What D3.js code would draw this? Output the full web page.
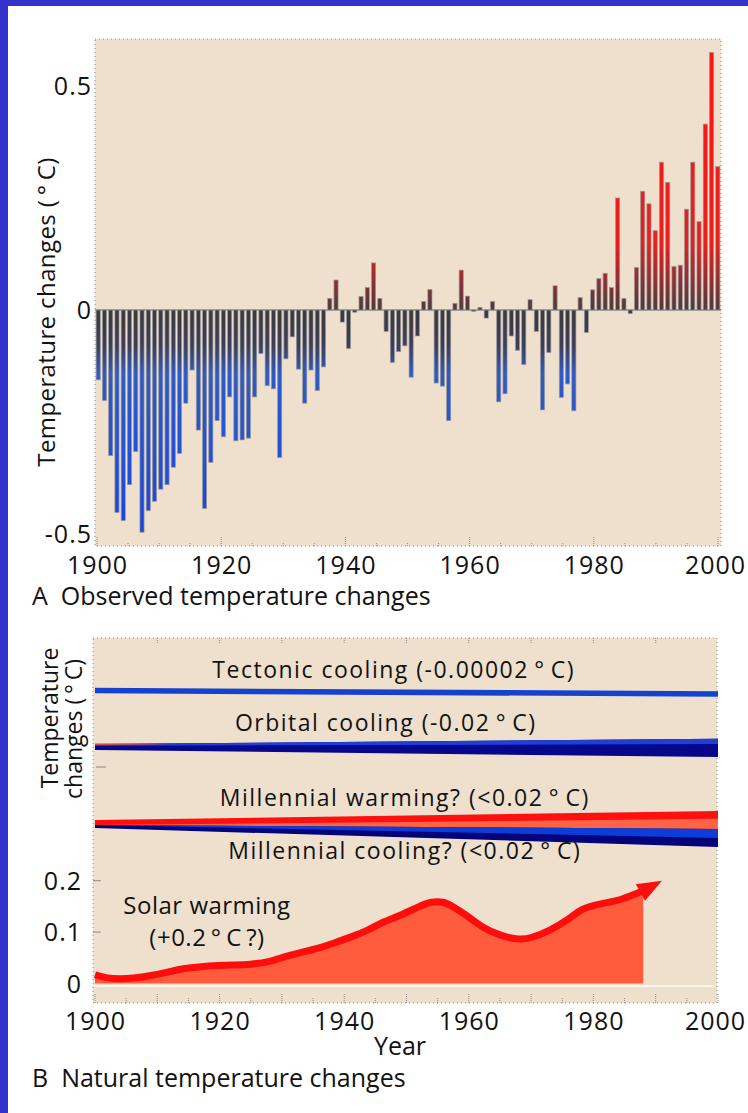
<!DOCTYPE html>
<html>
<head>
<meta charset="utf-8">
<script src="https://cdn.jsdelivr.net/npm/d3@7"></script>
<style>
  html, body { margin: 0; padding: 0; background: #fff; }
  svg { display: block; }
  text { font-family: "Open Sans", sans-serif; fill: #121212; font-weight: 500; }
</style>
</head>
<body>
<svg id="chart" width="748" height="1113"></svg>
<script>
// ---- Panel A: observed annual temperature changes (°C), one value per year from 1900
const obsStartYear = 1900;
const obsValues = [
  -0.156, -0.202, -0.325, -0.452, -0.470, -0.390, -0.316, -0.496, -0.448, -0.427,
  -0.400, -0.390, -0.351, -0.320, -0.208, -0.134, -0.268, -0.443, -0.340, -0.247,
  -0.283, -0.194, -0.292, -0.290, -0.286, -0.194, -0.097, -0.169, -0.176, -0.329,
  -0.109, -0.060, -0.132, -0.208, -0.134, -0.180, -0.127,  0.026,  0.067, -0.027,
  -0.086, -0.005,  0.030,  0.050,  0.105,  0.026, -0.048, -0.117, -0.093, -0.080,
  -0.150, -0.058,  0.019,  0.046, -0.163, -0.170, -0.247,  0.015,  0.089,  0.031,
  -0.003,  0.006, -0.018,  0.019, -0.205, -0.187, -0.058, -0.090, -0.122,  0.023,
  -0.048, -0.223, -0.095,  0.054, -0.195, -0.165, -0.225,  0.028, -0.050,  0.045,
   0.070,  0.082,  0.050,  0.250,  0.026, -0.008,  0.095,  0.265,  0.237,  0.177,
   0.330,  0.285,  0.097,  0.100,  0.225,  0.330,  0.197,  0.415,  0.575,  0.320
];
const obsYears = obsValues.map((_, i) => obsStartYear + i);
const obsYTicks = [-0.5, 0, 0.5];
const obsYTickLabels = ["-0.5", "0", "0.5"];
const yearTicks = [1900, 1920, 1940, 1960, 1980, 2000];

// ---- Panel B: natural forcings
const bandLabels = [
  "Tectonic cooling (-0.00002\u2009°\u2009C)",
  "Orbital cooling (-0.02\u2009°\u2009C)",
  "Millennial warming? (<0.02\u2009°\u2009C)",
  "Millennial cooling? (<0.02\u2009°\u2009C)"
];
const bandChange = [-0.00002, -0.02, 0.02, -0.02];

const solarYears = [1900, 1902, 1904, 1906, 1909, 1912, 1914, 1917, 1920, 1922, 1925, 1928,
  1930, 1933, 1936, 1938, 1941, 1944, 1946, 1949, 1952, 1954, 1956, 1957, 1960, 1962,
  1965, 1968, 1970, 1973, 1976, 1978, 1981, 1984, 1986, 1988];
const solarValues = [0.017, 0.010, 0.009, 0.010, 0.015, 0.023, 0.029, 0.033, 0.035, 0.036, 0.037, 0.042,
  0.051, 0.060, 0.069, 0.077, 0.090, 0.104, 0.119, 0.132, 0.150, 0.160, 0.159, 0.153, 0.130, 0.110,
  0.093, 0.085, 0.088, 0.103, 0.124, 0.146, 0.155, 0.161, 0.171, 0.180];
const solarArrowYear = 1991;
const solarArrowValue = 0.20;
const solarYTicks = [0, 0.1, 0.2];
const solarYTickLabels = ["0", "0.1", "0.2"];

// ---------------------------------------------------------------------------
const svg = d3.select("#chart");
const BEIGE = "#efe0cd";
const GRID = "#8d8a86";
const TICK_SPACING = 1.0;
const LABEL_MAX_X = 715;   // keep the last year label inside the page

// page frame
svg.append("rect").attr("x", 0).attr("y", 0).attr("width", 748).attr("height", 1113).attr("fill", "#fff");
svg.append("rect").attr("x", 0).attr("y", 0).attr("width", 748).attr("height", 6).attr("fill", "#3333cc");
svg.append("rect").attr("x", 0).attr("y", 0).attr("width", 8).attr("height", 1113).attr("fill", "#3333cc");

// ============================ Panel A ============================
const A = { left: 95, right: 721, top: 39, bottom: 546 };
const xA = d3.scaleLinear().domain([1900, 2000]).range([97, 718]);
const xBand = d3.scaleBand().domain(obsYears).range([A.left, A.right]).paddingInner(0.34).paddingOuter(0.18);
const yA = d3.scaleLinear().domain([-0.5, 0.5]).range([534, 86]);

const defs = svg.append("defs");
const neg = defs.append("linearGradient").attr("id", "negGrad")
  .attr("gradientUnits", "userSpaceOnUse").attr("x1", 0).attr("x2", 0)
  .attr("y1", yA(0)).attr("y2", yA(-0.5));
[[0, "#3a3a3e"], [0.16, "#3b3f5c"], [0.28, "#2e5bc4"], [0.6, "#2352d6"], [1, "#1846e0"]]
  .forEach(([o, c]) => neg.append("stop").attr("offset", o).attr("stop-color", c));
const pos = defs.append("linearGradient").attr("id", "posGrad")
  .attr("gradientUnits", "userSpaceOnUse").attr("x1", 0).attr("x2", 0)
  .attr("y1", yA(0)).attr("y2", yA(0.5));
[[0, "#4a3c3e"], [0.12, "#8a3036"], [0.3, "#e8201e"], [1, "#ff1414"]]
  .forEach(([o, c]) => pos.append("stop").attr("offset", o).attr("stop-color", c));

svg.append("rect").attr("x", A.left).attr("y", A.top)
  .attr("width", A.right - A.left).attr("height", A.bottom - A.top)
  .attr("fill", BEIGE).attr("stroke", GRID).attr("stroke-width", 1).attr("stroke-dasharray", "1,3");

// bottom tick marks
const tickYearsA = d3.range(1900, 2001, 5);
svg.append("g").selectAll("line").data(tickYearsA).join("line")
  .attr("x1", d => xA(d)).attr("x2", d => xA(d))
  .attr("y1", A.bottom).attr("y2", d => A.bottom - (d % 20 === 0 ? 9 : 4))
  .attr("stroke", GRID).attr("stroke-width", 1).attr("stroke-dasharray", "1,1");

// zero line
svg.append("line").attr("x1", A.left).attr("x2", A.right)
  .attr("y1", yA(0)).attr("y2", yA(0)).attr("stroke", "#8a8a8a").attr("stroke-width", 1.6);

// bars
svg.append("g").selectAll("rect").data(obsYears).join("rect")
  .attr("x", d => xBand(d))
  .attr("width", xBand.bandwidth())
  .attr("y", (d, i) => yA(Math.max(0, obsValues[i])))
  .attr("height", (d, i) => Math.max(1.2, Math.abs(yA(obsValues[i]) - yA(0))))
  .attr("fill", (d, i) => obsValues[i] >= 0 ? "url(#posGrad)" : "url(#negGrad)")
  .attr("stroke", "#9a9898").attr("stroke-width", 0.7);

// y axis labels
svg.append("g").selectAll("text").data(obsYTicks).join("text")
  .attr("x", 91 + TICK_SPACING).attr("y", d => yA(d)).attr("dy", "0.36em")
  .attr("text-anchor", "end").attr("font-size", 25).attr("letter-spacing", TICK_SPACING)
  .text((d, i) => obsYTickLabels[i]);

// x axis labels
svg.append("g").selectAll("text").data(yearTicks).join("text")
  .attr("x", d => Math.min(xA(d), LABEL_MAX_X) + TICK_SPACING / 2).attr("y", 574)
  .attr("text-anchor", "middle").attr("font-size", 25).attr("letter-spacing", TICK_SPACING)
  .text(d => d);

svg.append("text")
  .attr("transform", `translate(55, 312) rotate(-90)`)
  .attr("text-anchor", "middle").attr("font-size", 24).attr("letter-spacing", 0.4)
  .text("Temperature changes (\u2009°\u2009C)");

svg.append("text").attr("x", 32).attr("y", 605).attr("font-size", 25)
  .attr("xml:space", "preserve")
  .text("A  Observed temperature changes");

// ============================ Panel B ============================
const B = { left: 93, right: 717, top: 638, bottom: 1003 };
const xB = d3.scaleLinear().domain([1900, 2000]).range([95, 718]);
const yB = d3.scaleLinear().domain([0, 0.2]).range([983.5, 880.7]);

svg.append("rect").attr("x", B.left).attr("y", B.top)
  .attr("width", B.right - B.left).attr("height", B.bottom - B.top)
  .attr("fill", BEIGE).attr("stroke", GRID).attr("stroke-width", 1).attr("stroke-dasharray", "1,3");

// frame ticks
const tickYearsB = d3.range(1900, 2001, 5);
svg.append("g").selectAll("line").data(tickYearsB).join("line")
  .attr("x1", d => xB(d)).attr("x2", d => xB(d))
  .attr("y1", B.bottom).attr("y2", d => B.bottom - (d % 10 === 0 ? 9 : 5))
  .attr("stroke", GRID).attr("stroke-width", 1).attr("stroke-dasharray", "1,1");
svg.append("g").selectAll("line").data(d3.range(1910, 2000, 10)).join("line")
  .attr("x1", d => xB(d)).attr("x2", d => xB(d))
  .attr("y1", B.top).attr("y2", B.top + 6)
  .attr("stroke", GRID).attr("stroke-width", 1).attr("stroke-dasharray", "1,1");
svg.append("g").selectAll("line").data(solarYTicks.slice(1)).join("line")
  .attr("x1", B.left).attr("x2", B.left + 8)
  .attr("y1", d => yB(d)).attr("y2", d => yB(d))
  .attr("stroke", GRID).attr("stroke-width", 1);
svg.append("line").attr("x1", B.left + 3).attr("x2", B.left + 13)
  .attr("y1", 767).attr("y2", 767).attr("stroke", GRID).attr("stroke-width", 1);

// ---- forcing ribbons: thickness grows through the century with the size of the change
const spread = d3.scaleLinear().domain([0, 0.02]).range([0, 14]);
const tilt = 3.5;                       // slight downward drift across the panel
const years100 = [1900, 2000];
const tFrac = yr => (yr - 1900) / 100;

function ribbon(topFn, botFn, fill) {
  const area = d3.area()
    .x(d => xB(d))
    .y0(d => botFn(tFrac(d)))
    .y1(d => topFn(tFrac(d)));
  svg.append("path").datum(years100).attr("d", area).attr("fill", fill);
}

// tectonic
{
  const g = spread(Math.abs(bandChange[0]));
  ribbon(t => 687.8 + tilt * t - g * t, t => 693.3 + tilt * t, "#1442cf");
}
// orbital
{
  const g = spread(Math.abs(bandChange[1]));
  const top = t => 744 + tilt * t - 0.62 * g * t;
  const bot = t => 750 + tilt * t + 0.25 * g * t;
  ribbon(top, bot, "#07078c");
  ribbon(top, t => top(t) + 0.29 * (bot(t) - top(t)), "#1c40d8");
  // faint warm fringe at the start of the ribbon
  svg.append("path")
    .attr("d", `M${xB(1900)},${743.2}L${xB(1912)},${744.2}L${xB(1900)},${745.2}Z`)
    .attr("fill", "#f0503c").attr("opacity", 0.8);
}
// millennial warming / cooling share a starting edge
{
  const gw = spread(Math.abs(bandChange[2]));
  const wTop = t => 820 + tilt * t - 0.9 * gw * t;
  const wBot = t => 825 + tilt * t + 0.03 * gw * t;
  ribbon(wTop, wBot, "#ff1010");
  ribbon(t => wBot(t) - 0.72 * gw * t, wBot, "#ff6446");

  const gc = spread(Math.abs(bandChange[3]));
  const cTop = wBot;
  const cBot = t => 828 + tilt * t + 1.1 * gc * t;
  ribbon(cTop, cBot, "#03037a");
  ribbon(cTop, t => cTop(t) + 0.5 * (cBot(t) - cTop(t)) * t, "#0c3dd8");
}

// ribbon labels
const BAND_SPACING = 1.5;
const bandLabelPos = [[393, 678], [385, 731], [404, 806], [404, 859]];
svg.append("g").selectAll("text").data(bandLabels).join("text")
  .attr("x", (d, i) => bandLabelPos[i][0] + BAND_SPACING / 2).attr("y", (d, i) => bandLabelPos[i][1])
  .attr("text-anchor", "middle").attr("font-size", 23).attr("letter-spacing", BAND_SPACING)
  .text(d => d);

// ---- solar warming curve
const solar = solarYears.map((y, i) => ({ year: y, value: solarValues[i] }));
const solarArea = d3.area().curve(d3.curveBasis)
  .x(d => xB(d.year)).y0(yB(0)).y1(d => yB(d.value));
const solarLine = d3.line().curve(d3.curveBasis)
  .x(d => xB(d.year)).y(d => yB(d.value));

svg.append("path").datum(solar).attr("d", solarArea).attr("fill", "#ff5c3e");
svg.append("line").attr("x1", B.left + 1).attr("x2", B.right - 3)
  .attr("y1", yB(0) + 2.5).attr("y2", yB(0) + 2.5)
  .attr("stroke", "#fbf6f0").attr("stroke-width", 2.2);
svg.append("path").datum(solar).attr("d", solarLine)
  .attr("fill", "none").attr("stroke", "#ff0c0c").attr("stroke-width", 7);

// arrow head
{
  const last = solar[solar.length - 1];
  const bx = xB(last.year), by = yB(last.value);
  const tx = xB(solarArrowYear), ty = yB(solarArrowValue);
  const dx = tx - bx, dy = ty - by, len = Math.hypot(dx, dy);
  const nx = -dy / len, ny = dx / len, w = 9.5;
  svg.append("path")
    .attr("d", `M${tx},${ty}L${bx + nx * w - dx * 0.15},${by + ny * w - dy * 0.15}L${bx - nx * w - dx * 0.15},${by - ny * w - dy * 0.15}Z`)
    .attr("fill", "#ff0c0c");
}

// solar labels
svg.append("text").attr("x", 207).attr("y", 914).attr("text-anchor", "middle")
  .attr("font-size", 24).attr("letter-spacing", 0.5).text("Solar warming");
svg.append("text").attr("x", 207).attr("y", 946).attr("text-anchor", "middle")
  .attr("font-size", 24).attr("letter-spacing", 0.5).text("(+0.2\u2009°\u2009C\u2009?)");

// y ticks
svg.append("g").selectAll("text").data(solarYTicks).join("text")
  .attr("x", 81 + TICK_SPACING).attr("y", d => yB(d)).attr("dy", "0.36em")
  .attr("text-anchor", "end").attr("font-size", 25).attr("letter-spacing", TICK_SPACING)
  .text((d, i) => solarYTickLabels[i]);

// x ticks
svg.append("g").selectAll("text").data(yearTicks).join("text")
  .attr("x", d => Math.min(xB(d), LABEL_MAX_X) + TICK_SPACING / 2).attr("y", 1030)
  .attr("text-anchor", "middle").attr("font-size", 25).attr("letter-spacing", TICK_SPACING)
  .text(d => d);

svg.append("text").attr("x", 400).attr("y", 1055).attr("text-anchor", "middle")
  .attr("font-size", 25).text("Year");

svg.append("text").attr("transform", "translate(58, 718) rotate(-90)")
  .attr("text-anchor", "middle").attr("font-size", 23).text("Temperature");
svg.append("text").attr("transform", "translate(82, 729) rotate(-90)")
  .attr("text-anchor", "middle").attr("font-size", 23).text("changes (\u2009°\u2009C)");

svg.append("text").attr("x", 32).attr("y", 1087).attr("font-size", 25)
  .attr("xml:space", "preserve")
  .text("B  Natural temperature changes");
</script>
</body>
</html>
